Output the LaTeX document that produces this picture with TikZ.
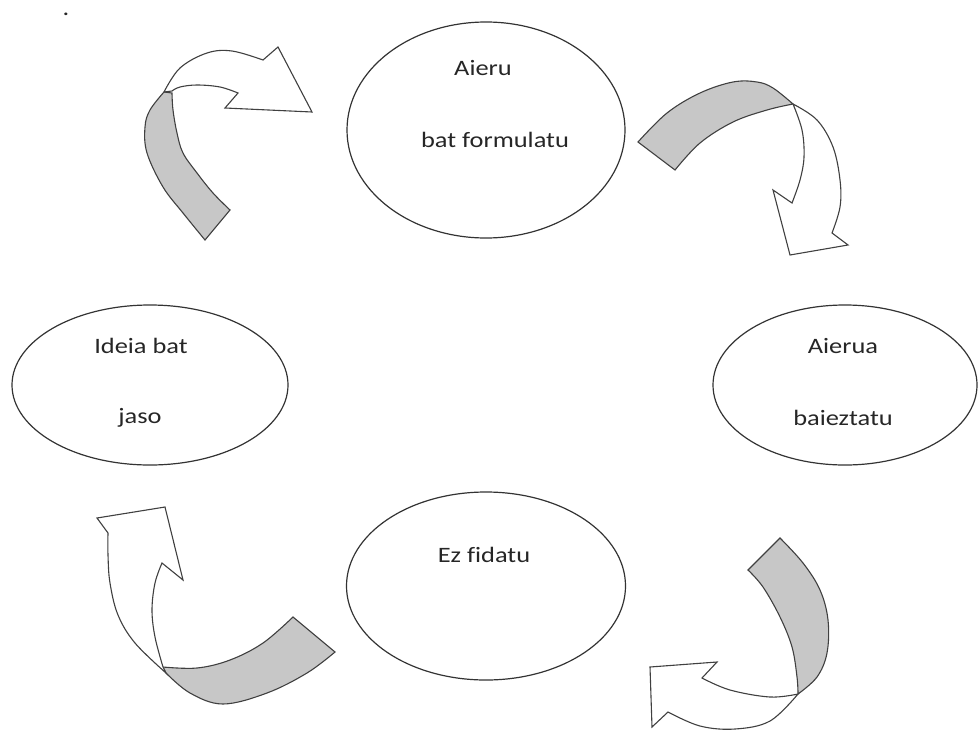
\documentclass[tikz,border=0pt]{standalone}
\usepackage{fontspec}
\setmainfont[FakeStretch=1.2,Ligatures=NoCommon]{Carlito}
\usetikzlibrary{shapes.geometric}
\begin{document}
\begin{tikzpicture}[x=1pt,y=-1pt,
  bubble/.style={ellipse,draw=black!80,line width=1.2pt,inner sep=0pt},
  lbl/.style={anchor=base,inner sep=0pt,text=black!85,font=\fontsize{22}{26}\selectfont},
  band/.style={draw=black!75,line width=1.1pt,line join=miter,fill=black!22},
  head/.style={draw=black!75,line width=1.1pt,line join=miter,fill=white}]
\useasboundingbox (0,0) rectangle (979,731);

% ellipses
\node[bubble,minimum width=278pt,minimum height=216pt] (top) at (486,130) {};
\node[bubble,minimum width=276pt,minimum height=160pt] (left) at (150,385) {};
\node[bubble,minimum width=264pt,minimum height=160pt] (right) at (845,385) {};
\node[bubble,minimum width=279pt,minimum height=188pt] (bottom) at (486,586) {};

% texts
\node[lbl] (t1a) at (483,75) {Aieru};
\node[lbl] (t1b) at (495,147) {bat formulatu};
\node[lbl] (t2a) at (141,353) {Ideia bat};
\node[lbl] (t2b) at (140,423) {jaso};
\node[lbl] (t3a) at (843,353) {Aierua};
\node[lbl] (t3b) at (843,425) {baieztatu};
\node[lbl] (t4a) at (484,562) {Ez fidatu};
\node[lbl] (dot) at (66,15) {.};

% top-left curved arrow
\path[band] plot[smooth,tension=0.6] coordinates {(164,92)(150,110)(145,127)(147,153)(163,187)(183,213)(205,240)} -- (230,210) -- plot[smooth,tension=0.6] coordinates {(230,210)(213,193)(197,173)(183,153)(177,133)(173,110)(172,93)} -- cycle;
\path[head] plot[smooth,tension=0.6] coordinates {(164,92)(180,68)(207,53)(232,51)(263,60)} -- (278,47) -- (312,112) -- (225,108) -- (238,93) -- plot[smooth,tension=0.6] coordinates {(238,93)(220,87)(197,85)(180,87)(172,91)} -- cycle;

% top-right curved arrow
\path[band] plot[smooth,tension=0.6] coordinates {(793,104)(773,88)(757,82)(733,82)(700,93)(667,113)(638,142)} -- (675,170) -- plot[smooth,tension=0.6] coordinates {(675,170)(700,143)(733,122)(767,110)(793,104)} -- cycle;
\path[head] plot[smooth,tension=0.6] coordinates {(793,104)(802,130)(804,157)(800,180)(792,203)} -- (773,190) -- (790,255) -- (848,245) -- (832,233) -- plot[smooth,tension=0.6] coordinates {(832,233)(840,207)(840,180)(833,147)(817,120)(793,104)} -- cycle;

% bottom-right curved arrow
\path[band] plot[smooth,tension=0.6] coordinates {(798,694)(797,677)(792,647)(780,617)(763,587)(748,570)} -- (780,538) -- plot[smooth,tension=0.6] coordinates {(780,538)(803,563)(820,590)(828,620)(827,653)(817,677)(798,694)} -- cycle;
\path[head] plot[smooth,tension=0.6] coordinates {(798,694)(770,697)(730,690)(702,678)} -- (717,662) -- (650,667) -- (652,727) -- (668,712) -- plot[smooth,tension=0.6] coordinates {(668,712)(700,726)(735,729)(770,721)(798,694)} -- cycle;

% bottom-left curved arrow
\path[band] plot[smooth,tension=0.6] coordinates {(163,667)(197,668)(230,660)(263,643)(293,617)} -- (335,652) -- plot[smooth,tension=0.6] coordinates {(335,652)(307,673)(267,693)(223,704)(190,693)(166,673)} -- cycle;
\path[head] plot[smooth,tension=0.6] coordinates {(163,667)(155,637)(152,610)(155,583)(162,563)} -- (183,580) -- (165,507) -- (97,518) -- (108,533) -- plot[smooth,tension=0.6] coordinates {(108,533)(108,555)(110,583)(118,615)(135,643)(166,673)} -- cycle;
\end{tikzpicture}
\end{document}
